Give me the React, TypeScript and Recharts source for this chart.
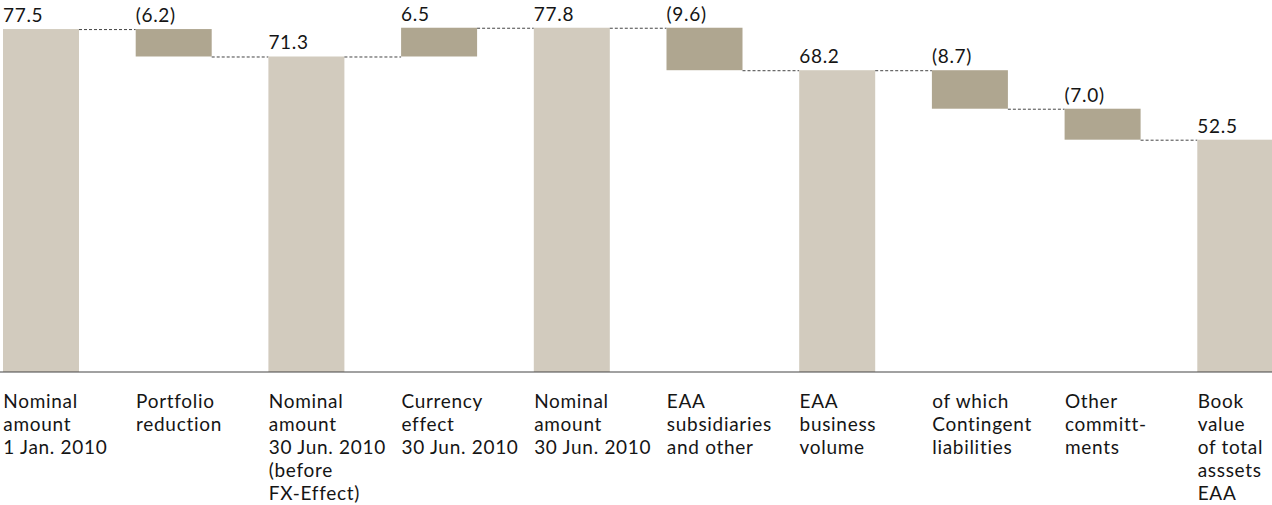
import React from "react";
import { BarChart, Bar, XAxis, YAxis } from "recharts";

// ---- data ----
const categories: string[] = [
  "Nominal\namount\n1 Jan. 2010",
  "Portfolio\nreduction",
  "Nominal\namount\n30 Jun. 2010\n(before\nFX-Effect)",
  "Currency\neffect\n30 Jun. 2010",
  "Nominal\namount\n30 Jun. 2010",
  "EAA\nsubsidiaries\nand other",
  "EAA\nbusiness\nvolume",
  "of which\nContingent\nliabilities",
  "Other\ncommitt-\nments",
  "Book\nvalue\nof total\nasssets\nEAA",
];
const values: number[] = [77.5, -6.2, 71.3, 6.5, 77.8, -9.6, 68.2, -8.7, -7.0, 52.5];
const isTotal: boolean[] = [true, false, true, false, true, false, true, false, false, true];
const valueLabels: string[] = ["77.5", "(6.2)", "71.3", "6.5", "77.8", "(9.6)", "68.2", "(8.7)", "(7.0)", "52.5"];
const yDomain: [number, number] = [0, 80];

// ---- build waterfall table ----
type Row = { name: string; range: [number, number]; start: number; end: number; total: boolean; label: string };
const rows: Row[] = (() => {
  const out: Row[] = [];
  let level = 0;
  categories.forEach((name, i) => {
    const v = values[i];
    let start: number, end: number;
    if (isTotal[i]) {
      start = 0;
      end = v;
    } else {
      start = level;
      end = level + v;
    }
    level = end;
    out.push({
      name,
      range: [Math.min(start, end), Math.max(start, end)],
      start,
      end,
      total: isTotal[i],
      label: valueLabels[i],
    });
  });
  return out;
})();

// ---- layout / style ----
const CHART_W = 1327;
const CHART_H = 505;
const CHART_LEFT = -25;
const BAR_SIZE = 76;
const BAND = CHART_W / categories.length;
const FONT = "Lato, 'Open Sans', sans-serif";
const FONT_SIZE = 19;
const LETTER_SPACING = 0.7;
const TEXT_COLOR = "#151515";
const TOTAL_COLOR = "#d2cbbe";
const DELTA_COLOR = "#afa690";
const CONNECTOR_COLOR = "#444";

const WaterfallShape = (props: any) => {
  const { x, y, width, height, index, payload } = props;
  const top = Math.min(y, y + height);
  const h = Math.abs(height);
  const row: Row = payload;
  const fill = row.total ? TOTAL_COLOR : DELTA_COLOR;
  const endY = row.total ? top : row.end < row.start ? top + h : top;
  const gap = BAND - width;
  const last = index === rows.length - 1;
  return (
    <g>
      <rect x={x} y={top} width={width} height={h} fill={fill} />
      {!last && (
        <line
          x1={x + width}
          x2={x + width + gap}
          y1={endY + 0.5}
          y2={endY + 0.5}
          stroke={CONNECTOR_COLOR}
          strokeWidth={1}
          strokeDasharray="3 2"
        />
      )}
      <text
        x={x}
        y={top - 7}
        fill={TEXT_COLOR}
        fontFamily={FONT}
        fontSize={FONT_SIZE}
        letterSpacing={LETTER_SPACING}
        textAnchor="start"
      >
        {row.label}
      </text>
    </g>
  );
};

const CategoryTick = (props: any) => {
  const { x, y, payload } = props;
  const lines = String(payload.value).split("\n");
  return (
    <g>
      {lines.map((l, i) => (
        <text
          key={i}
          x={x - BAR_SIZE / 2}
          y={y + 28 + i * 23}
          fill={TEXT_COLOR}
          fontFamily={FONT}
          fontSize={FONT_SIZE}
          letterSpacing={LETTER_SPACING}
          textAnchor="start"
        >
          {l}
        </text>
      ))}
    </g>
  );
};

export default function App() {
  return (
    <div style={{ position: "absolute", left: 0, top: 0, width: 1272, height: 505, overflow: "hidden", background: "#fff" }}>
      <div style={{ position: "absolute", left: CHART_LEFT, top: 0 }}>
        <BarChart
          width={CHART_W}
          height={CHART_H}
          data={rows}
          margin={{ top: 18, right: 0, bottom: 0, left: 0 }}
          barSize={BAR_SIZE}
        >
          <XAxis
            dataKey="name"
            height={133}
            tickLine={false}
            axisLine={{ stroke: "#444", strokeWidth: 1.2 }}
            tick={<CategoryTick />}
            interval={0}
          />
          <YAxis hide domain={yDomain} />
          <Bar dataKey="range" isAnimationActive={false} shape={<WaterfallShape />} />
        </BarChart>
      </div>
    </div>
  );
}
